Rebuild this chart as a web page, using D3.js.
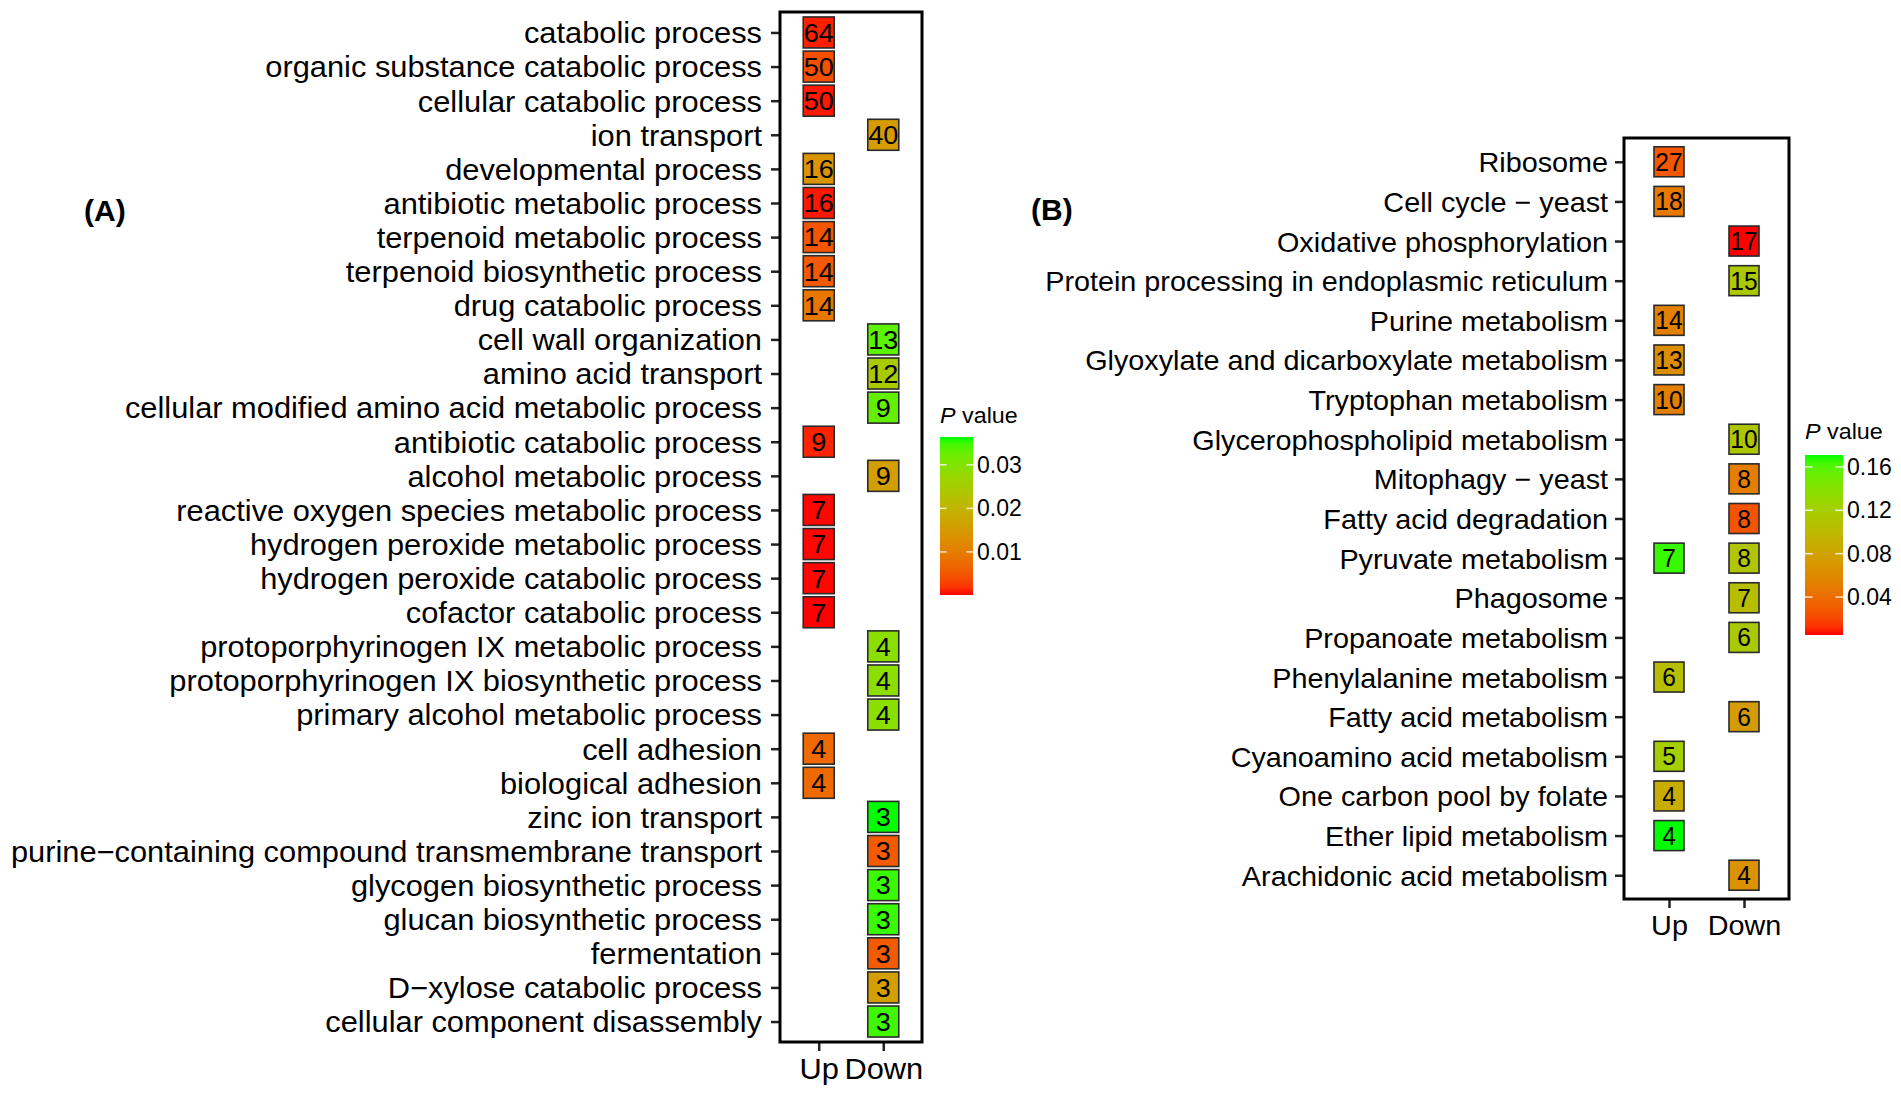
<!DOCTYPE html>
<html>
<head>
<meta charset="utf-8">
<script src="https://cdn.jsdelivr.net/npm/d3@7"></script>
<style>
  body { margin: 0; background: #fff; }
  text { font-family: "Liberation Sans", Arial, sans-serif; fill: #000; }
</style>
</head>
<body>
<svg id="chart" width="1901" height="1103"></svg>
<script>
// ---- data: panel A (GO terms) ----
const termsA = [
  "catabolic process", "organic substance catabolic process", "cellular catabolic process",
  "ion transport", "developmental process", "antibiotic metabolic process",
  "terpenoid metabolic process", "terpenoid biosynthetic process", "drug catabolic process",
  "cell wall organization", "amino acid transport", "cellular modified amino acid metabolic process",
  "antibiotic catabolic process", "alcohol metabolic process", "reactive oxygen species metabolic process",
  "hydrogen peroxide metabolic process", "hydrogen peroxide catabolic process", "cofactor catabolic process",
  "protoporphyrinogen IX metabolic process", "protoporphyrinogen IX biosynthetic process",
  "primary alcohol metabolic process", "cell adhesion", "biological adhesion", "zinc ion transport",
  "purine\u2212containing compound transmembrane transport", "glycogen biosynthetic process",
  "glucan biosynthetic process", "fermentation", "D\u2212xylose catabolic process",
  "cellular component disassembly"
];
const upCountA   = [64, 50, 50, null, 16, 16, 14, 14, 14, null, null, null, 9, null, 7, 7, 7, 7,
                    null, null, null, 4, 4, null, null, null, null, null, null, null];
const upPA       = [0.0009, 0.0042, 0.0006, null, 0.0138, 0.0006, 0.0048, 0.0052, 0.0092, null, null, null,
                    0.0010, null, 0.0002, 0.0002, 0.0002, 0.0001, null, null, null, 0.0072, 0.0072,
                    null, null, null, null, null, null, null];
const downCountA = [null, null, null, 40, null, null, null, null, null, 13, 12, 9, null, 9, null, null, null, null,
                    4, 4, 4, null, null, 3, 3, 3, 3, 3, 3, 3];
const downPA     = [null, null, null, 0.0153, null, null, null, null, null, 0.0335, 0.0248, 0.0328, null, 0.0157,
                    null, null, null, null, 0.0291, 0.0291, 0.0291, null, null, 0.0364, 0.0055, 0.0353,
                    0.0353, 0.0055, 0.0157, 0.0350];
const legendTicksA = [0.01, 0.02, 0.03];
const legendLabelsA = ["0.01", "0.02", "0.03"];

// ---- data: panel B (KEGG pathways) ----
const termsB = [
  "Ribosome", "Cell cycle \u2212 yeast", "Oxidative phosphorylation",
  "Protein processing in endoplasmic reticulum", "Purine metabolism",
  "Glyoxylate and dicarboxylate metabolism", "Tryptophan metabolism",
  "Glycerophospholipid metabolism", "Mitophagy \u2212 yeast", "Fatty acid degradation",
  "Pyruvate metabolism", "Phagosome", "Propanoate metabolism", "Phenylalanine metabolism",
  "Fatty acid metabolism", "Cyanoamino acid metabolism", "One carbon pool by folate",
  "Ether lipid metabolism", "Arachidonic acid metabolism"
];
const upCountB   = [27, 18, null, null, 14, 13, 10, null, null, null, 7, null, null, 6, null, 5, 4, 4, null];
const upPB       = [0.028, 0.048, null, null, 0.053, 0.063, 0.053, null, null, null, 0.166, null, null,
                    0.105, null, 0.121, 0.088, 0.171, null];
const downCountB = [null, null, 17, 15, null, null, null, 10, 8, 8, 8, 7, 6, null, 6, null, null, null, 4];
const downPB     = [null, null, 0.005, 0.115, null, null, null, 0.113, 0.051, 0.026, 0.111, 0.105, 0.116,
                    null, 0.075, null, null, null, 0.066];
const legendTicksB = [0.04, 0.08, 0.12, 0.16];
const legendLabelsB = ["0.04", "0.08", "0.12", "0.16"];

const groups = ["Up", "Down"];

const svg = d3.select("#chart");
let gradId = 0;

function drawPanel(cfg) {
  const points = [];
  cfg.terms.forEach((t, i) => {
    if (cfg.upCount[i] != null) points.push({ term: t, group: "Up", n: cfg.upCount[i], p: cfg.upP[i] });
    if (cfg.downCount[i] != null) points.push({ term: t, group: "Down", n: cfg.downCount[i], p: cfg.downP[i] });
  });

  const x = d3.scalePoint().domain(groups).range([cfg.left, cfg.right]).padding(0.6);
  const y = d3.scalePoint().domain(cfg.terms).range([cfg.top, cfg.bottom]).padding(0.6);
  const color = d3.scaleLinear()
    .domain(d3.extent(points, d => d.p))
    .range(["#ff0000", "#00ff00"])
    .interpolate(d3.interpolateLab);

  const g = svg.append("g");

  // y axis labels
  const yAxis = g.append("g")
    .attr("transform", `translate(${cfg.left},0)`)
    .call(d3.axisLeft(y).tickSize(9).tickPadding(8));
  yAxis.select(".domain").remove();
  yAxis.selectAll(".tick line").attr("stroke", "#222").attr("stroke-width", 2.5);
  yAxis.selectAll(".tick text")
    .attr("font-size", cfg.fontSize)
    .attr("font-family", "Liberation Sans, Arial, sans-serif")
    .attr("fill", "#000")
    .attr("x", -cfg.labelGap / cfg.sx)
    .attr("dy", "0.35em")
    .attr("transform", `scale(${cfg.sx},1)`);

  // x axis labels
  const xAxis = g.append("g")
    .attr("transform", `translate(0,${cfg.bottom})`)
    .call(d3.axisBottom(x).tickSize(9).tickPadding(10));
  xAxis.select(".domain").remove();
  xAxis.selectAll(".tick line").attr("stroke", "#222").attr("stroke-width", 2.5);
  xAxis.selectAll(".tick text")
    .attr("font-size", cfg.fontSize)
    .attr("font-family", "Liberation Sans, Arial, sans-serif")
    .attr("fill", "#000")
    .attr("y", 0).attr("dy", 0)
    .attr("transform", `translate(0,${cfg.xLabelOffset}) scale(${cfg.sx},1)`);

  // squares
  const s = cfg.box;
  g.selectAll("rect.pt").data(points).enter().append("rect")
    .attr("class", "pt")
    .attr("x", d => x(d.group) - s / 2)
    .attr("y", d => y(d.term) - s / 2)
    .attr("width", s).attr("height", s)
    .attr("fill", d => color(d.p))
    .attr("stroke", "#2a2a2a").attr("stroke-width", 1.6);

  g.selectAll("text.num").data(points).enter().append("text")
    .attr("class", "num")
    .attr("text-anchor", "middle")
    .attr("font-size", cfg.numSize)
    .attr("transform", d => `translate(${x(d.group)},${y(d.term) + cfg.numSize * 0.36}) scale(${cfg.numSx},1)`)
    .text(d => d.n);

  // panel border
  g.append("rect")
    .attr("x", cfg.left).attr("y", cfg.top)
    .attr("width", cfg.right - cfg.left).attr("height", cfg.bottom - cfg.top)
    .attr("fill", "none").attr("stroke", "#000").attr("stroke-width", 3);

  // panel tag
  g.append("text")
    .attr("x", cfg.tagX).attr("y", cfg.tagY)
    .attr("font-size", 30).attr("font-weight", "bold")
    .attr("font-family", "Open Sans, Liberation Sans, Arial, sans-serif")
    .text(cfg.tag);

  // colour bar legend
  const L = cfg.legend;
  const ly = d3.scaleLinear().domain(color.domain()).range([L.y1, L.y0]);
  const id = "grad" + (gradId++);
  const grad = svg.append("defs").append("linearGradient")
    .attr("id", id).attr("x1", 0).attr("y1", 1).attr("x2", 0).attr("y2", 0);
  d3.range(0, 1.0001, 0.05).forEach(t => {
    grad.append("stop").attr("offset", t)
      .attr("stop-color", color(color.domain()[0] + t * (color.domain()[1] - color.domain()[0])));
  });
  g.append("rect")
    .attr("x", L.x).attr("y", L.y0)
    .attr("width", L.w).attr("height", L.y1 - L.y0)
    .attr("fill", `url(#${id})`);

  const tickLen = L.w / 5;
  L.ticks.forEach((v, i) => {
    const ty = ly(v);
    g.append("line").attr("x1", L.x).attr("x2", L.x + tickLen).attr("y1", ty).attr("y2", ty)
      .attr("stroke", "#fff").attr("stroke-opacity", 0.8).attr("stroke-width", 1.5);
    g.append("line").attr("x1", L.x + L.w - tickLen).attr("x2", L.x + L.w).attr("y1", ty).attr("y2", ty)
      .attr("stroke", "#fff").attr("stroke-opacity", 0.8).attr("stroke-width", 1.5);
    g.append("text")
      .attr("font-size", 23)
      .attr("transform", `translate(${L.x + L.w + 4},${ty + 8}) scale(1.0,1)`)
      .text(L.labels[i]);
  });

  const title = g.append("text")
    .attr("font-size", 22)
    .attr("transform", `translate(${L.x},${L.titleY}) scale(1.06,1)`);
  title.append("tspan").attr("font-style", "italic").text("P");
  title.append("tspan").text(" value");
}

drawPanel({
  terms: termsA, upCount: upCountA, upP: upPA, downCount: downCountA, downP: downPA,
  left: 780, right: 922, top: 12, bottom: 1042,
  fontSize: 29.5, sx: 1.045, labelGap: 18, xLabelOffset: 37,
  box: 31, numSize: 26, numSx: 1.04,
  tag: "(A)", tagX: 84, tagY: 221,
  legend: { x: 940, w: 33, y0: 437, y1: 595, titleY: 423, ticks: legendTicksA, labels: legendLabelsA }
});

drawPanel({
  terms: termsB, upCount: upCountB, upP: upPB, downCount: downCountB, downP: downPB,
  left: 1624, right: 1789, top: 138, bottom: 899,
  fontSize: 28.5, sx: 1.01, labelGap: 16, xLabelOffset: 36,
  box: 30, numSize: 25, numSx: 0.98,
  tag: "(B)", tagX: 1031, tagY: 220,
  legend: { x: 1805, w: 38, y0: 455, y1: 635, titleY: 439, ticks: legendTicksB, labels: legendLabelsB }
});
</script>
</body>
</html>
